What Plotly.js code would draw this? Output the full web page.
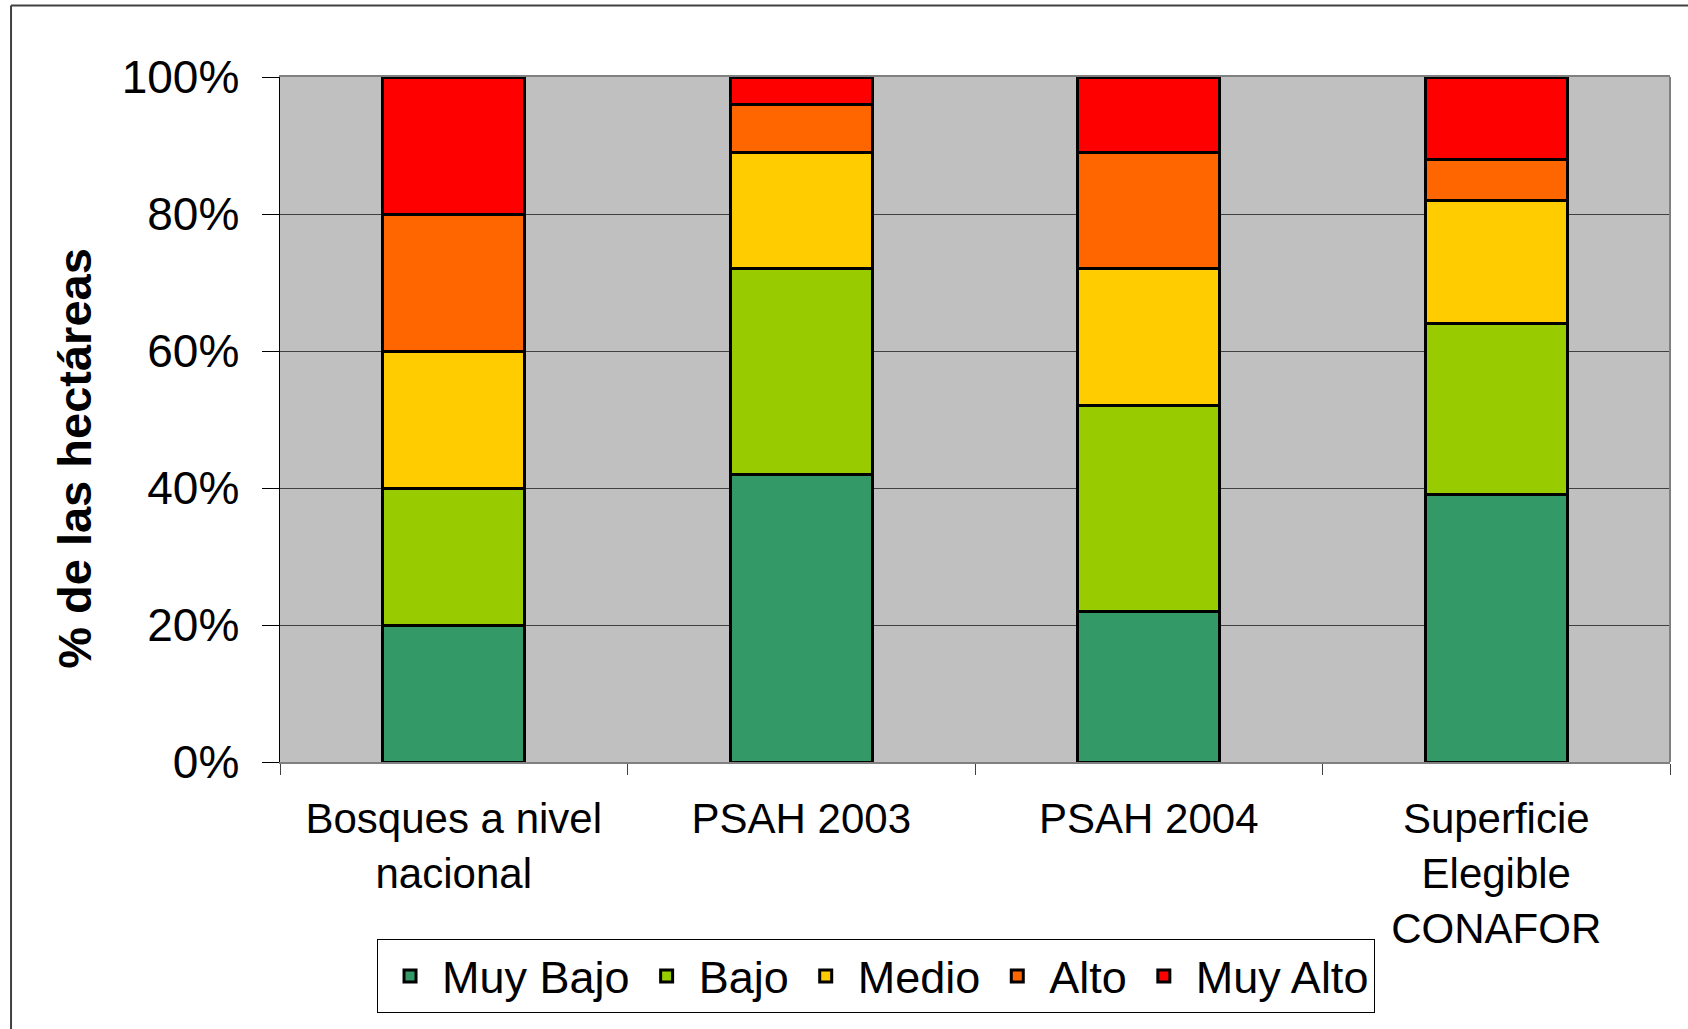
<!DOCTYPE html>
<html>
<head>
<meta charset="utf-8">
<script src="https://cdn.plot.ly/plotly-3.0.1.min.js"></script>
<style>
  html, body { margin: 0; padding: 0; background: #ffffff; }
  #chart { width: 1688px; height: 1029px; }
</style>
</head>
<body>
<div id="chart"></div>
<script>
// ---- Data ----
const categories = [
  "Bosques a nivel<br>nacional",
  "PSAH 2003",
  "PSAH 2004",
  "Superficie<br>Elegible<br>CONAFOR"
];
const seriesNames = ["Muy Bajo", "Bajo", "Medio", "Alto", "Muy Alto"];
const muyBajo = [20, 42, 22, 39];
const bajo    = [20, 30, 30, 25];
const medio   = [20, 17, 20, 18];
const alto    = [20,  7, 17,  6];
const muyAlto = [20,  4, 11, 12];
const seriesValues = [muyBajo, bajo, medio, alto, muyAlto];
const seriesColors = ["#339966", "#99CC00", "#FFCC00", "#FF6600", "#FF0000"];
const yTickVals = [0, 20, 40, 60, 80, 100];
const yTitle = "% de las hectáreas";

const FONT = "Liberation Sans, Arial, sans-serif";

const traces = seriesNames.map((name, i) => ({
  type: "bar",
  name: name,
  x: categories,
  y: seriesValues[i],
  width: 0.41,
  marker: { color: seriesColors[i], line: { color: "#000000", width: 3 } },
  hoverinfo: "name+y"
}));

const layout = {
  width: 1688,
  height: 1029,
  barmode: "stack",
  paper_bgcolor: "#ffffff",
  plot_bgcolor: "#C0C0C0",
  margin: { l: 280, r: 18, t: 77, b: 267, pad: 0 },
  font: { family: FONT, color: "#000000" },
  showlegend: true,
  legend: {
    orientation: "h",
    x: 0.4288, xanchor: "center",
    y: -0.2586, yanchor: "top",
    traceorder: "normal",
    itemwidth: 54,
    bgcolor: "#ffffff",
    bordercolor: "#000000",
    borderwidth: 1,
    font: { family: FONT, size: 45, color: "#000000" }
  },
  xaxis: {
    type: "category",
    showgrid: false,
    showline: true,
    linecolor: "#808080",
    linewidth: 2,
    mirror: true,
    ticks: "outside",
    tickson: "boundaries",
    ticklen: 11,
    tickcolor: "#404040",
    tickwidth: 1,
    ticklabelstandoff: 19,
    tickfont: { family: FONT, size: 42, color: "#000000" },
    zeroline: false
  },
  yaxis: {
    range: [0, 100],
    tickvals: yTickVals,
    ticktext: yTickVals.map(v => v + "%"),
    showgrid: true,
    gridcolor: "#404040",
    gridwidth: 1,
    showline: true,
    linecolor: "#000000",
    linewidth: 1.5,
    ticks: "outside",
    ticklen: 17,
    tickcolor: "#000000",
    tickwidth: 1,
    ticklabelstandoff: 13,
    tickfont: { family: FONT, size: 46, color: "#000000" },
    zeroline: false
  },
  annotations: [
    { text: "<b>" + yTitle + "</b>", xref: "paper", yref: "paper",
      x: -0.1475, y: 0.444, xanchor: "center", yanchor: "middle",
      textangle: -90, showarrow: false,
      font: { family: FONT, size: 47, color: "#000000" } }
  ],
  shapes: [
    // right edge of plot area
    { type: "line", xref: "paper", yref: "paper", x0: 1, x1: 1, y0: 0, y1: 1,
      line: { color: "#808080", width: 2 } },
    // outer chart border (top and left visible)
    { type: "line", xref: "paper", yref: "paper", x0: -0.1935, x1: 1.03, y0: 1.1045, y1: 1.1045,
      line: { color: "#404040", width: 2 } },
    { type: "line", xref: "paper", yref: "paper", x0: -0.1935, x1: -0.1935, y0: 1.1045, y1: -0.42,
      line: { color: "#404040", width: 2 } }
  ]
};

Plotly.newPlot("chart", traces, layout, { displayModeBar: false, staticPlot: true });
</script>
</body>
</html>
